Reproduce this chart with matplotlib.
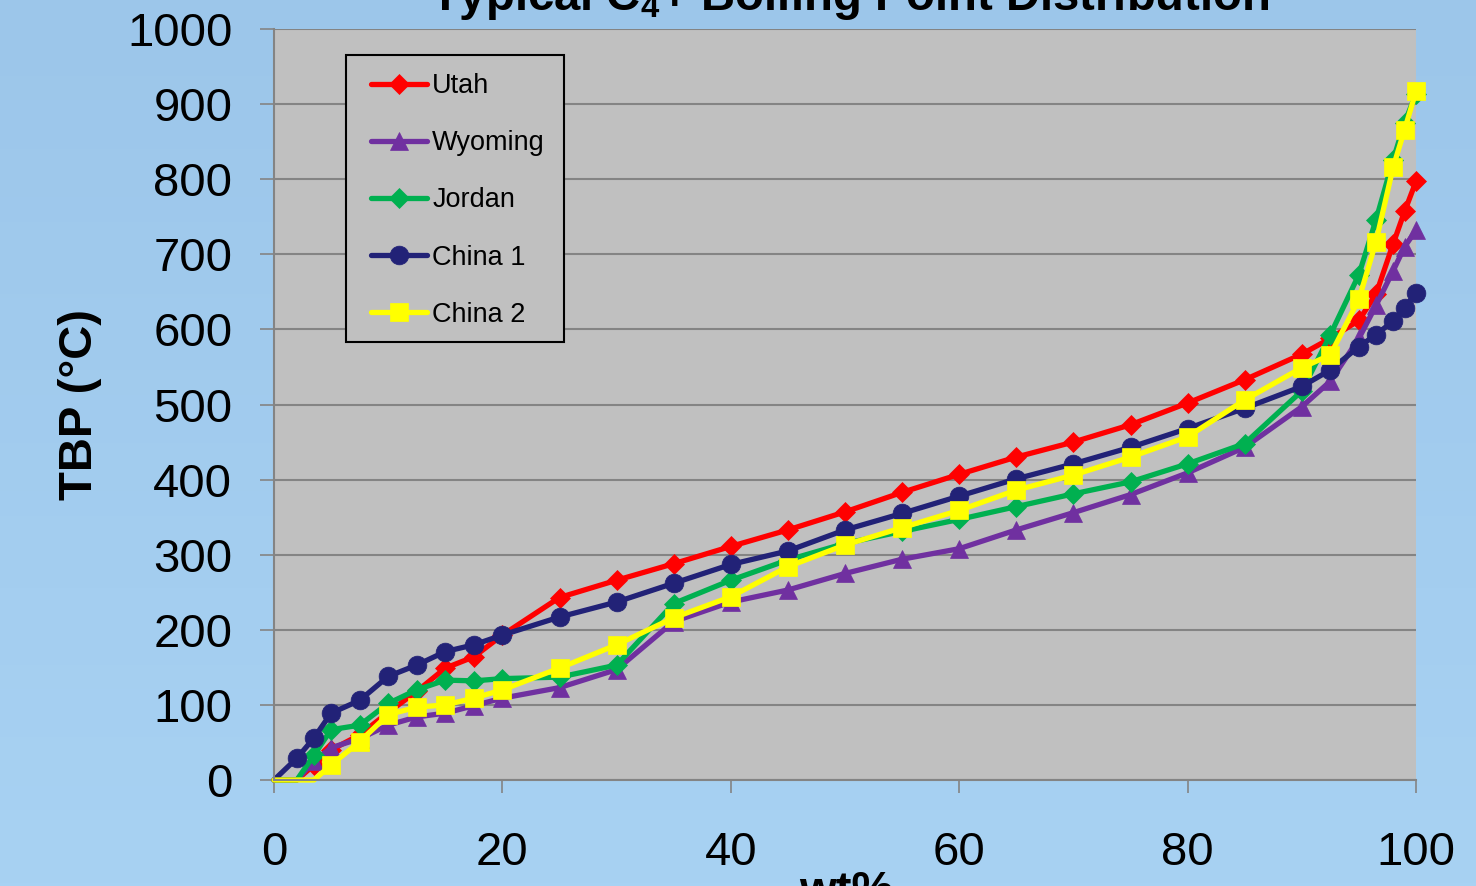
import matplotlib

matplotlib.use("Agg")

import matplotlib.pyplot as plt
import numpy as np
from matplotlib.colors import LinearSegmentedColormap
from matplotlib.patches import Rectangle

plt.rcParams["font.family"] = ["Liberation Sans", "DejaVu Sans"]
plt.rcParams["mathtext.fontset"] = "custom"
plt.rcParams["mathtext.rm"] = "Liberation Sans:bold"
plt.rcParams["mathtext.it"] = "Liberation Sans:bold"
plt.rcParams["mathtext.bf"] = "Liberation Sans:bold"

# wt% distilled and true boiling point (deg C)
wt_pct = [0, 2, 3.5, 5, 7.5, 10, 12.5, 15, 17.5, 20, 25, 30, 35, 40, 45, 50,
          55, 60, 65, 70, 75, 80, 85, 90, 92.5, 95, 96.5, 98, 99, 100]
utah = [0, 0, 20, 40, 60, 90, 118, 149, 164, 193, 243, 266, 288, 311, 333, 357,
        383, 407, 430, 450, 473, 502, 533, 567, 588, 612, 647, 714, 757, 797]
wyoming = [0, 0, 25, 43, 55, 73, 84, 89, 99, 109, 123, 147, 211, 237, 253, 275,
           294, 308, 333, 356, 380, 409, 443, 497, 531, 588, 632, 678, 710, 732]
jordan = [0, 0, 33, 67, 73, 102, 120, 133, 132, 135, 137, 153, 235, 266, 293, 315,
          331, 347, 364, 381, 397, 421, 448, 518, 593, 673, 746, 826, 875, 914]
china1 = [0, 29, 56, 89, 106, 138, 153, 171, 180, 193, 217, 237, 262, 287, 305, 333,
          355, 378, 401, 421, 443, 468, 495, 524, 546, 577, 593, 611, 629, 648]
china2 = [0, 0, 0, 20, 51, 87, 97, 100, 109, 120, 149, 180, 216, 244, 284, 313,
          336, 359, 386, 406, 430, 457, 506, 549, 566, 640, 717, 816, 866, 917]

labels = ["Utah", "Wyoming", "Jordan", "China 1", "China 2"]
values = [utah, wyoming, jordan, china1, china2]
colors = ["#FF0000", "#7030A0", "#00B050", "#222277", "#FFFF00"]
markers = ["D", "^", "D", "o", "s"]
msizes = [10.5, 13.5, 10.5, 13.5, 13.5]

W, H = 1476, 886
fig = plt.figure(figsize=(W / 100, H / 100), dpi=100)

# light blue gradient background
bg = fig.add_axes([0, 0, 1, 1], zorder=-10)
cmap = LinearSegmentedColormap.from_list("bg", ["#A8D2F3", "#9CC6EA"])
bg.imshow(np.linspace(0, 1, 256).reshape(-1, 1), cmap=cmap, aspect="auto",
          extent=[0, 1, 0, 1], origin="lower")
bg.axis("off")

ax = fig.add_axes([274 / W, 1 - 780 / H, (1416 - 274) / W, (780 - 29) / H])
ax.set_facecolor("#C0C0C0")

for lab, y, c, m, ms in zip(labels, values, colors, markers, msizes):
    shown = [i for i, v in enumerate(y) if v > 0]
    ax.plot(wt_pct, y, color=c, lw=3.8, marker=m, ms=ms, mfc=c, mec=c,
            mew=0.5, markevery=shown, label=lab, clip_on=False,
            solid_joinstyle="round", solid_capstyle="round")

ax.set_xlim(0, 100)
ax.set_ylim(0, 1000)
ax.set_xticks(np.arange(0, 101, 20))
ax.set_yticks(np.arange(0, 1001, 100))
ax.grid(axis="y", color="#848484", lw=1.5)
ax.grid(axis="x", visible=False)
ax.set_axisbelow(True)
for s in ("top", "right"):
    ax.spines[s].set_visible(False)
for s in ("left", "bottom"):
    ax.spines[s].set_color("#848484")
    ax.spines[s].set_linewidth(1.5)
ax.tick_params(axis="y", direction="out", length=10, width=1.2, color="#848484",
               pad=20, labelsize=34)
ax.tick_params(axis="x", direction="out", length=9, width=1.2, color="#848484",
               pad=28, labelsize=34)

# legend with its own frame
box = Rectangle(((346 - 274) / 1142, (780 - 342) / 751), (564 - 346) / 1142,
                (342 - 55) / 751, transform=ax.transAxes, facecolor="#C0C0C0",
                edgecolor="black", lw=1.5, zorder=4.5, clip_on=False)
ax.add_patch(box)
leg = ax.legend(loc="upper left", bbox_to_anchor=((353 - 274) / 1142, (780 - 55) / 751),
                borderaxespad=0, borderpad=0.67, frameon=False, fontsize=19.5,
                handlelength=2.05, handletextpad=0.2, labelspacing=1.15)
leg.set_zorder(5)

fig.text(80 / W, 1 - 405 / H, "TBP (°C)", rotation=90, ha="center", va="center",
         fontsize=34, fontweight="bold")
fig.text(846 / W, 1 - 904 / H, "wt%", ha="center", va="baseline",
         fontsize=34, fontweight="bold")
fig.text(850 / W, 1 - 9.5 / H, r"Typical C$_4$+ Boiling Point Distribution",
         ha="center", va="baseline", fontsize=34, fontweight="bold")

fig.savefig("out.png", dpi=100)
